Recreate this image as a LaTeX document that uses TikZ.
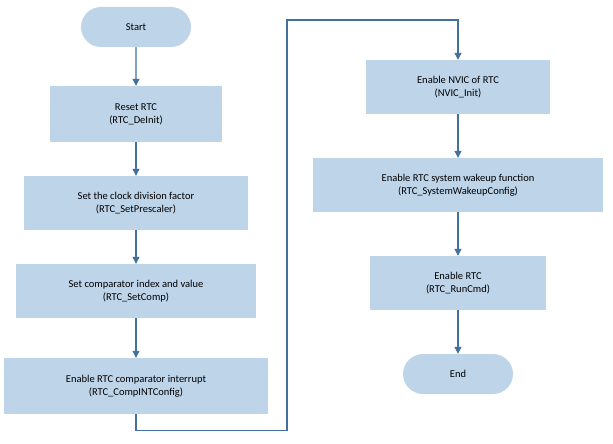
\documentclass[tikz,border=0pt]{standalone}
\usepackage{fontspec}
\setmainfont{Carlito}
\usetikzlibrary{arrows.meta,shapes.misc}
\definecolor{boxc}{HTML}{BDD4E9}
\definecolor{linec}{HTML}{41719C}
\begin{document}
\begin{tikzpicture}[x=1pt,y=-1pt,
 box/.style={fill=boxc,draw=none,align=center,font=\fontsize{10.5}{13}\selectfont,inner sep=0pt},
 term/.style={box,rounded rectangle,minimum width=110pt,minimum height=40pt},
 arr/.style={draw=linec,line width=1.1pt,-{Triangle[length=7pt,width=7pt]}}]
\useasboundingbox (0,0) rectangle (613,444);
\node[term] (s) at (136,27) {Start};
\node[box,minimum width=172pt,minimum height=56pt] (a) at (136,114) {Reset RTC\\(RTC\_DeInit)};
\node[box,minimum width=224pt,minimum height=54pt] (b) at (136,203) {Set the clock division factor\\(RTC\_SetPrescaler)};
\node[box,minimum width=240pt,minimum height=54pt] (c) at (136,291) {Set comparator index and value\\(RTC\_SetComp)};
\node[box,minimum width=264pt,minimum height=56pt] (d) at (136,386) {Enable RTC comparator interrupt\\(RTC\_CompINTConfig)};
\node[box,minimum width=184pt,minimum height=54pt] (e) at (458,87) {Enable NVIC of RTC\\(NVIC\_Init)};
\node[box,minimum width=290pt,minimum height=54pt] (f) at (458,185) {Enable RTC system wakeup function\\(RTC\_SystemWakeupConfig)};
\node[box,minimum width=176pt,minimum height=54pt] (g) at (458,283) {Enable RTC\\(RTC\_RunCmd)};
\node[term] (h) at (458,374) {End};
\draw[arr] (s) -- (a);
\draw[arr] (a) -- (b);
\draw[arr] (b) -- (c);
\draw[arr] (c) -- (d);
\draw[arr] (d.south) -- ++(0,16) -| (287,20) -| (e.north);
\draw[arr] (e) -- (f);
\draw[arr] (f) -- (g);
\draw[arr] (g) -- (h);
\end{tikzpicture}
\end{document}
